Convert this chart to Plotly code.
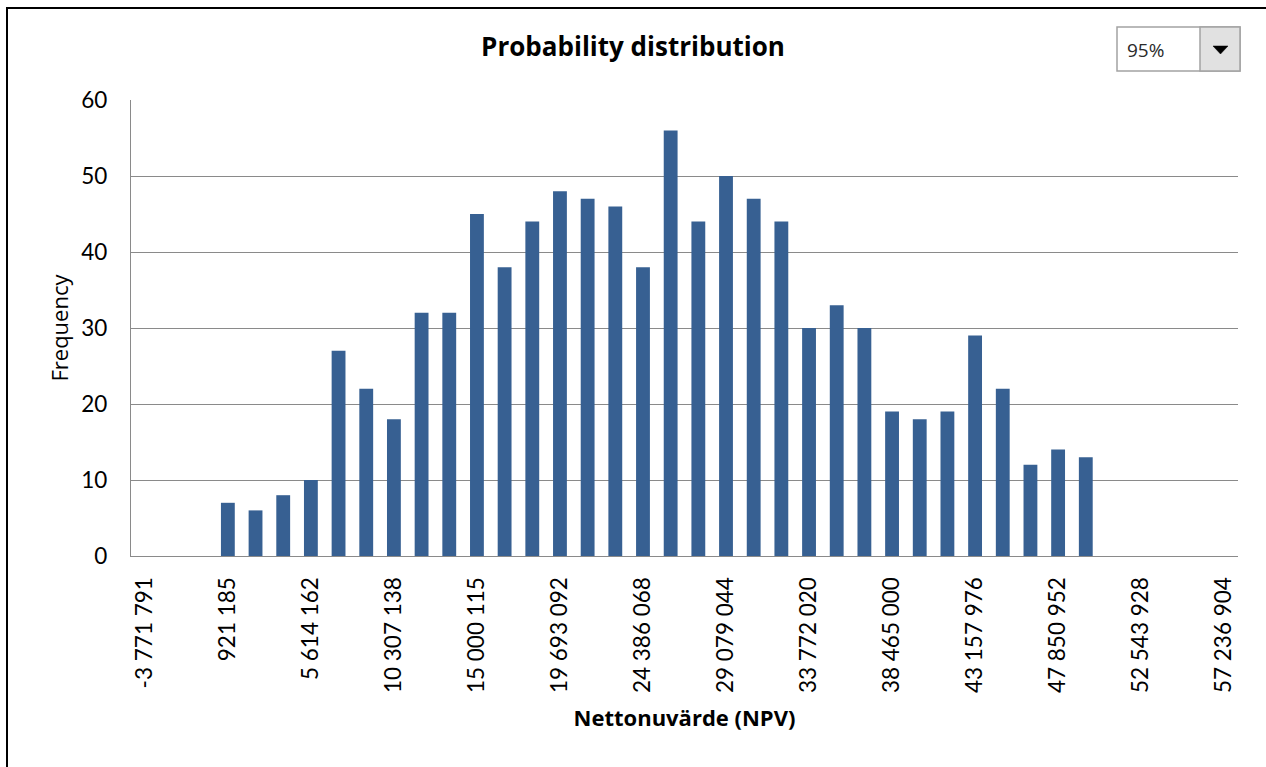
import plotly.graph_objects as go

# Histogram bins (NPV) and simulated frequencies per bin
npv_bins = [
    -3771791, -2207466, -643140, 921185, 2485510, 4049836, 5614162, 7178487,
    8742813, 10307138, 11871463, 13435789, 15000115, 16564441, 18128766,
    19693092, 21257417, 22821743, 24386068, 25950393, 27514719, 29079044,
    30643369, 32207695, 33772020, 35336347, 36900673, 38465000, 40029325,
    41593651, 43157976, 44722301, 46286627, 47850952, 49415277, 50979603,
    52543928, 54108253, 55672579, 57236904,
]
frequency = [
    0, 0, 0, 7, 6, 8, 10, 27, 22, 18, 32, 32, 45, 38, 44, 48, 47, 46, 38, 56,
    44, 50, 47, 44, 30, 33, 30, 19, 18, 19, 29, 22, 12, 14, 13, 0, 0, 0, 0, 0,
]

# Every third bin carries a label on the x axis
tick_bins = [
    -3771791, 921185, 5614162, 10307138, 15000115, 19693092, 24386068,
    29079044, 33772020, 38465000, 43157976, 47850952, 52543928, 57236904,
]
tick_labels = [
    "-3 771 791", "921 185", "5 614 162", "10 307 138", "15 000 115",
    "19 693 092", "24 386 068", "29 079 044", "33 772 020", "38 465 000",
    "43 157 976", "47 850 952", "52 543 928", "57 236 904",
]
confidence_options = ["95%"]

FONT = "Lato, Carlito, Calibri, sans-serif"
UI_FONT = "Open Sans, Segoe UI, sans-serif"
BAR = "#376092"
GRID = "#8a8a8a"

W, H = 1266, 767
L, R, T, B = 131, 28, 100, 211
PW, PH = W - L - R, H - T - B


def px(x):
    return (x - L) / PW


def py(y):
    return (H - B - y) / PH


bin_step = (npv_bins[-1] - npv_bins[0]) / (len(npv_bins) - 1)

fig = go.Figure(
    go.Bar(
        x=npv_bins,
        y=frequency,
        width=bin_step * 0.5,
        marker=dict(color=BAR, line=dict(width=0)),
        hovertemplate="%{x}<br>%{y}<extra></extra>",
    )
)

fig.update_layout(
    width=W,
    height=H,
    margin=dict(l=L, r=R, t=T, b=B),
    paper_bgcolor="white",
    plot_bgcolor="white",
    showlegend=False,
    font=dict(family=FONT, color="#000000", size=22),
    title=dict(
        text="<b>Probability distribution</b>",
        font=dict(family=UI_FONT, size=26, color="#000000"),
        x=0.5,
        xref="container",
        xanchor="center",
        y=1 - 47 / H,
        yref="container",
        yanchor="middle",
    ),
    xaxis=dict(
        range=[npv_bins[0] - bin_step / 2, npv_bins[-1] + bin_step / 2],
        tickmode="array",
        tickvals=tick_bins,
        ticktext=tick_labels,
        tickangle=-90,
        ticks="",
        ticklabelstandoff=11,
        showgrid=False,
        zeroline=False,
        showline=True,
        linecolor=GRID,
        linewidth=1.3,
        tickfont=dict(family=FONT, size=22.5, color="#000000"),
        title=dict(
            text="<b>Nettonuvärde (NPV)</b>",
            font=dict(family=UI_FONT, size=22, color="#000000"),
            standoff=18,
        ),
        fixedrange=True,
    ),
    yaxis=dict(
        range=[0, 60],
        dtick=10,
        ticks="",
        ticklabelstandoff=18,
        showgrid=True,
        gridcolor=GRID,
        gridwidth=1.3,
        zeroline=False,
        showline=True,
        linecolor=GRID,
        linewidth=1.3,
        tickfont=dict(family=FONT, size=22.5, color="#000000"),
        title=dict(
            text="Frequency",
            font=dict(family=UI_FONT, size=22, color="#000000"),
            standoff=6,
        ),
        fixedrange=True,
    ),
)

shapes = [
    # chart-area frame
    dict(type="rect", xref="paper", yref="paper",
         x0=px(7), x1=px(1290), y0=py(8), y1=py(800),
         line=dict(color="#000000", width=2), fillcolor="rgba(0,0,0,0)",
         layer="above"),
    # confidence-level selector box
    dict(type="rect", xref="paper", yref="paper",
         x0=px(1117), x1=px(1240), y0=py(27), y1=py(71),
         line=dict(color="#a3a3a3", width=1.5), fillcolor="white",
         layer="above"),
    dict(type="rect", xref="paper", yref="paper",
         x0=px(1200), x1=px(1240), y0=py(27), y1=py(71),
         line=dict(color="#a3a3a3", width=1.5), fillcolor="#e1e1e1",
         layer="above"),
    dict(type="path", xref="paper", yref="paper",
         path=f"M {px(1213)} {py(46)} L {px(1228)} {py(46)} L {px(1220.5)} {py(54)} Z",
         line=dict(color="#000000", width=0.5), fillcolor="#000000",
         layer="above"),
]
fig.update_layout(shapes=shapes)

fig.add_annotation(
    text=confidence_options[0],
    xref="paper", yref="paper",
    x=px(1125), y=py(50),
    xanchor="left", yanchor="middle",
    showarrow=False,
    font=dict(family=UI_FONT, size=19, color="#2a2a2a"),
)

fig.write_html("out.html", config={"displayModeBar": False})
